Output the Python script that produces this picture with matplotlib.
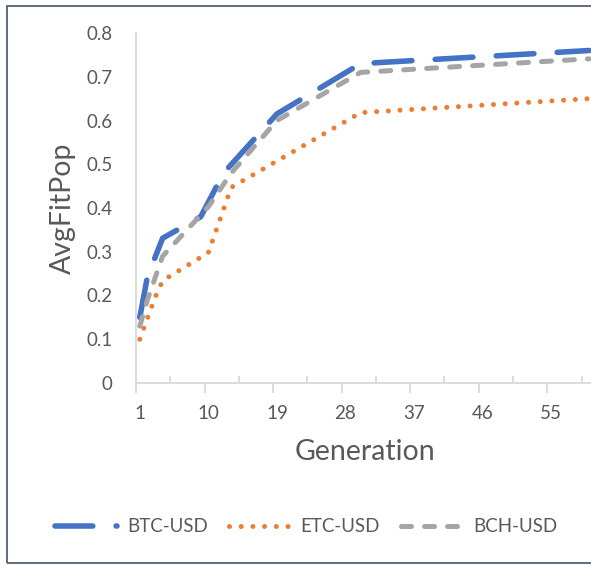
import matplotlib.pyplot as plt
from matplotlib.patches import Rectangle

# ==============================================================
# Data
# ==============================================================
btc_gen = [1, 2, 4, 9, 12, 19, 30, 60]
btc_fit = [0.15, 0.243, 0.331, 0.38, 0.48, 0.615, 0.73, 0.76]

etc_gen = [1, 2, 3, 4, 10, 13, 30, 60]
etc_fit = [0.1, 0.148, 0.195, 0.234, 0.298, 0.447, 0.618, 0.65]

bch_gen = [1, 2, 4, 10, 13, 19, 30, 60]
bch_fit = [0.13, 0.19, 0.29, 0.403, 0.48, 0.60, 0.71, 0.741]

n_gen = 60
x_labels = [1, 10, 19, 28, 37, 46, 55]
y_ticks = [0, 0.1, 0.2, 0.3, 0.4, 0.5, 0.6, 0.7, 0.8]

plt.rcParams['font.family'] = ['Lato', 'DejaVu Sans']

W, H = 591, 566
fig = plt.figure(figsize=(W / 100, H / 100), dpi=100)

# plot area in pixels: x 136..593, y 33..383
ax = fig.add_axes([136 / W, 1 - 383 / H, (593 - 136) / W, (383 - 33) / H])

axis_col = '#D9D9D9'
text_col = '#595959'

ax.plot(btc_gen, btc_fit, color='#4472C4', lw=4.0, linestyle=(0, (6.8, 4.2)),
        dash_capstyle='round', solid_capstyle='round', label='BTC-USD')
ax.plot(etc_gen, etc_fit, color='#ED7D31', lw=3.6, linestyle=(0, (0.001, 2.34)),
        dash_capstyle='round', label='ETC-USD')
ax.plot(bch_gen, bch_fit, color='#A5A5A5', lw=3.6, linestyle=(0, (2.0, 2.6)),
        dash_capstyle='round', label='BCH-USD')

ax.set_xlim(0.5, n_gen + 0.5)
ax.set_ylim(0, 0.8)

for s in ['top', 'right']:
    ax.spines[s].set_visible(False)
for s in ['left', 'bottom']:
    ax.spines[s].set_color(axis_col)
    ax.spines[s].set_linewidth(1.3)

# category axis: outward ticks at boundaries, inward ticks in between
ax.set_xticks([0.5 + 9 * k for k in range(7)])
ax.set_xticks([5 + 9 * k for k in range(7)], minor=True)
ax.tick_params(axis='x', which='major', direction='out', length=7, width=1.3,
               color=axis_col, labelbottom=False)
ax.tick_params(axis='x', which='minor', direction='in', length=5, width=1.3,
               color=axis_col)

sec = ax.secondary_xaxis('bottom')
sec.spines['bottom'].set_visible(False)
sec.set_xticks(x_labels)
sec.set_xticklabels([str(v) for v in x_labels])
sec.tick_params(length=0, pad=16, labelsize=13.5, labelcolor=text_col)

ax.set_yticks(y_ticks)
ax.set_yticklabels(['0' if v == 0 else f'{v:.1f}' for v in y_ticks])
ax.tick_params(axis='y', length=0, pad=17, labelsize=13.5, labelcolor=text_col)

ax.set_xlabel('Generation', fontsize=20.5, color=text_col)
ax.xaxis.set_label_coords(0.5, (383 - 439) / 350)
ax.xaxis.label.set_va('top')
ax.set_ylabel('AvgFitPop', fontsize=20.5, color=text_col)
ax.yaxis.set_label_coords((76 - 136) / 457, 0.5)

fig.legend(loc='center', bbox_to_anchor=(306 / W, 1 - 527 / H), ncol=3,
           frameon=False, fontsize=13.5, handlelength=3.3, handletextpad=0.55,
           columnspacing=1.1, labelcolor=text_col)

# chart border (cropped on the right side)
fig.add_artist(Rectangle((7 / W, 1 - 563 / H), 1.1, (563 - 6) / H,
                         transform=fig.transFigure, fill=False,
                         edgecolor='#44546A', lw=1.2))

fig.savefig('out.png', dpi=100)
